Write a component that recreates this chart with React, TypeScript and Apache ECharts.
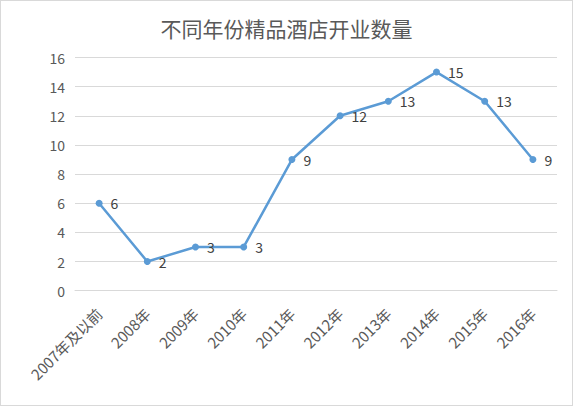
import React, { useEffect, useRef } from "react";
import * as echarts from "echarts";

const categories = ["2007年及以前", "2008年", "2009年", "2010年", "2011年", "2012年", "2013年", "2014年", "2015年", "2016年"];
const openings = [6, 2, 3, 3, 9, 12, 13, 15, 13, 9];
const titleText = "不同年份精品酒店开业数量";

export default function App() {
  const ref = useRef<HTMLDivElement>(null);
  useEffect(() => {
    if (!ref.current) return;
    const chart = echarts.init(ref.current, undefined, { renderer: "svg" });
    const font = "'Noto Sans CJK SC', 'Microsoft YaHei', sans-serif";
    chart.setOption({
      animation: false,
      backgroundColor: "#ffffff",
      title: {
        text: titleText,
        left: "center",
        top: 11,
        textStyle: { fontFamily: font, fontSize: 21, fontWeight: "normal", color: "#595959" },
      },
      grid: { left: 74, right: 15, top: 56.5, bottom: 114.3, containLabel: false },
      xAxis: {
        type: "category",
        data: categories,
        boundaryGap: true,
        axisLine: { show: true, lineStyle: { color: "#D9D9D9", width: 1 } },
        axisTick: { show: false },
        axisLabel: { rotate: 45, interval: 0, color: "#595959", fontSize: 15, fontFamily: font, margin: 20 },
      },
      yAxis: {
        type: "value",
        min: 0,
        max: 16,
        interval: 2,
        axisLine: { show: false },
        axisTick: { show: false },
        axisLabel: { color: "#595959", fontSize: 14, fontFamily: font, margin: 10 },
        splitLine: { lineStyle: { color: "#D9D9D9", width: 1 } },
      },
      series: [
        {
          type: "line",
          data: openings,
          symbol: "circle",
          symbolSize: 7,
          lineStyle: { color: "#5B9BD5", width: 2.5 },
          itemStyle: { color: "#5B9BD5" },
          label: { show: true, position: "right", distance: 8, color: "#404040", fontSize: 14, fontFamily: font },
        },
      ],
    });
    return () => chart.dispose();
  }, []);
  return (
    <div
      style={{
        position: "fixed",
        left: 0,
        top: 0,
        width: 573,
        height: 406,
        boxSizing: "border-box",
        border: "1px solid #D9D9D9",
        background: "#fff",
      }}
    >
      <div ref={ref} style={{ width: 571, height: 404 }} />
    </div>
  );
}
